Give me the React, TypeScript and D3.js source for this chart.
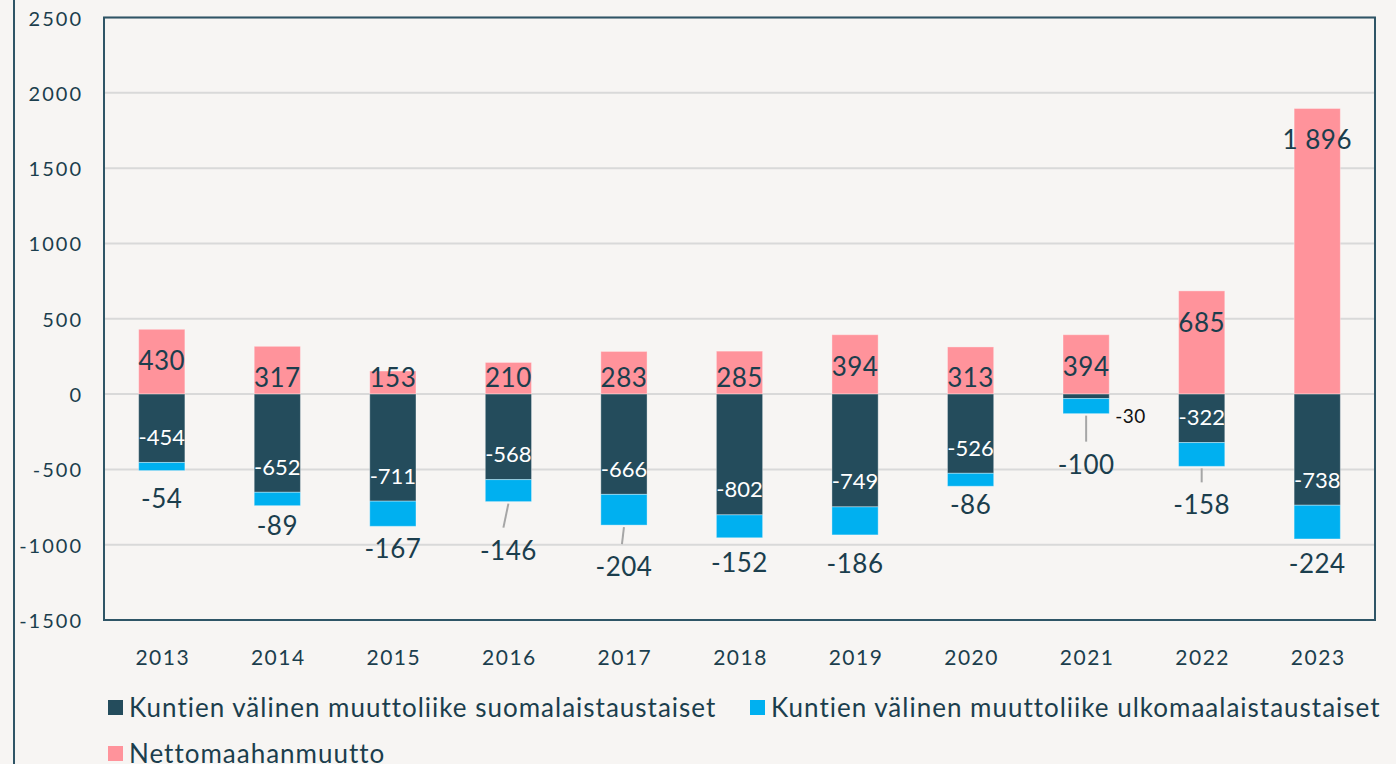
import React, { useEffect, useRef } from 'react';
import * as d3 from 'd3';

const years = ['2013', '2014', '2015', '2016', '2017', '2018', '2019', '2020', '2021', '2022', '2023'];
const suomalais = [-454, -652, -711, -568, -666, -802, -749, -526, -30, -322, -738];
const ulkomaalais = [-54, -89, -167, -146, -204, -152, -186, -86, -100, -158, -224];
const netto = [430, 317, 153, 210, 283, 285, 394, 313, 394, 685, 1896];
const yTicks = [-1500, -1000, -500, 0, 500, 1000, 1500, 2000, 2500];
const seriesNames = [
  'Kuntien välinen muuttoliike suomalaistaustaiset',
  'Kuntien välinen muuttoliike ulkomaalaistaustaiset',
  'Nettomaahanmuutto',
];
// gap (px) between bar bottom and the hand-placed label of the blue series
const blueLabelGap = [27, 19, 22, 48, 41, 24, 28, 18, 50, 38, 24];

const W = 1396;
const H = 764;
const COL_DARK = '#244c5c';
const COL_BLUE = '#00b0f0';
const COL_PINK = '#ff939b';
const TEXT = '#1b3e4d';
const FONT = 'Lato, sans-serif';

const fmt = (v: number) => {
  const s = Math.abs(v).toString().replace(/\B(?=(\d{3})+(?!\d))/g, ' ');
  return (v < 0 ? '-' : '') + s;
};

export default function App() {
  const ref = useRef<SVGSVGElement>(null);

  useEffect(() => {
    const svg = d3.select(ref.current);
    svg.selectAll('*').remove();

    const margin = { top: 17.5, right: 21, bottom: 144, left: 104 };
    const x = d3
      .scaleBand()
      .domain(years)
      .range([margin.left, W - margin.right])
      .paddingInner(0.6)
      .paddingOuter(0.3);
    const y = d3
      .scaleLinear()
      .domain([-1500, 2500])
      .range([H - margin.bottom, margin.top]);

    svg.append('rect').attr('width', W).attr('height', H).attr('fill', '#f7f5f3');
    svg
      .append('line')
      .attr('x1', 14)
      .attr('x2', 14)
      .attr('y1', 0)
      .attr('y2', H)
      .attr('stroke', '#2f5566')
      .attr('stroke-width', 2);

    // gridlines
    svg
      .append('g')
      .selectAll('line')
      .data(yTicks)
      .join('line')
      .attr('x1', margin.left)
      .attr('x2', W - margin.right)
      .attr('y1', d => y(d))
      .attr('y2', d => y(d))
      .attr('stroke', '#d9d9d9')
      .attr('stroke-width', 2);

    const zero = y(0);
    const bw = x.bandwidth();

    const bars = svg.append('g');
    years.forEach((yr, i) => {
      const x0 = x(yr)!;
      const dTop = y(0);
      const dBot = y(suomalais[i]);
      const bBot = y(suomalais[i] + ulkomaalais[i]);
      const pTop = y(netto[i]);
      bars.append('rect').attr('x', x0).attr('width', bw).attr('y', pTop).attr('height', zero - pTop)
        .attr('fill', COL_PINK).attr('stroke', '#ffffff').attr('stroke-opacity', 0.35);
      bars.append('rect').attr('x', x0).attr('width', bw).attr('y', dTop).attr('height', dBot - dTop)
        .attr('fill', COL_DARK).attr('stroke', '#ffffff').attr('stroke-opacity', 0.35);
      bars.append('rect').attr('x', x0).attr('width', bw).attr('y', dBot).attr('height', bBot - dBot)
        .attr('fill', COL_BLUE).attr('stroke', '#ffffff').attr('stroke-opacity', 0.35);
    });

    // plot frame
    svg
      .append('rect')
      .attr('x', margin.left)
      .attr('y', margin.top)
      .attr('width', W - margin.right - margin.left)
      .attr('height', y(-1500) - margin.top)
      .attr('fill', 'none')
      .attr('stroke', '#2f5566')
      .attr('stroke-width', 2);

    // labels
    const lab = svg.append('g').style('font-family', FONT);
    years.forEach((yr, i) => {
      const cx = x(yr)! + bw / 2;
      const pTop = y(netto[i]);
      lab.append('text').attr('x', cx).attr('y', Math.min(pTop + 31, zero - 17))
        .attr('text-anchor', 'middle').attr('dominant-baseline', 'central')
        .attr('fill', TEXT).style('font-size', '26px').style('letter-spacing', '0.5px').text(fmt(netto[i]));

      const dBot = y(suomalais[i]);
      if (dBot - zero < 20) {
        lab.append('text').attr('x', x(yr)! + bw + 6).attr('y', zero + 21)
          .attr('dominant-baseline', 'central').attr('fill', '#111')
          .style('font-size', '19px').style('letter-spacing', '0.5px').text(fmt(suomalais[i]));
      } else {
        lab.append('text').attr('x', cx).attr('y', dBot - 26)
          .attr('text-anchor', 'middle').attr('dominant-baseline', 'central')
          .attr('fill', '#ffffff').style('font-size', '22px').text(fmt(suomalais[i]));
      }

      const bBot = y(suomalais[i] + ulkomaalais[i]);
      const ly = bBot + blueLabelGap[i];
      if (blueLabelGap[i] > 35) {
        lab.append('line').attr('x1', cx).attr('x2', cx - (i === 3 ? 5 : i === 4 ? 2 : 0))
          .attr('y1', bBot + 2).attr('y2', ly - 22)
          .attr('stroke', '#a6a6a6').attr('stroke-width', 2);
      }
      lab.append('text').attr('x', cx).attr('y', ly)
        .attr('text-anchor', 'middle').attr('dominant-baseline', 'central')
        .attr('fill', TEXT).style('font-size', '26px').style('letter-spacing', '0.5px').text(fmt(ulkomaalais[i]));
    });

    // y axis labels
    svg
      .append('g')
      .selectAll('text')
      .data(yTicks)
      .join('text')
      .attr('x', 83)
      .attr('y', d => y(d))
      .attr('text-anchor', 'end')
      .attr('dominant-baseline', 'central')
      .attr('fill', TEXT)
      .style('font-family', FONT)
      .style('font-size', '20px')
      .style('letter-spacing', '2px')
      .text(d => d);

    // x axis labels
    svg
      .append('g')
      .selectAll('text')
      .data(years)
      .join('text')
      .attr('x', d => x(d)! + bw / 2 + 1)
      .attr('y', 656)
      .attr('text-anchor', 'middle')
      .attr('dominant-baseline', 'central')
      .attr('fill', TEXT)
      .style('font-family', FONT)
      .style('font-size', '21px')
      .style('letter-spacing', '1.5px')
      .text(d => d);

    // legend
    const legendItems = [
      { name: seriesNames[0], color: COL_DARK, x: 108, y: 707 },
      { name: seriesNames[1], color: COL_BLUE, x: 750, y: 707 },
      { name: seriesNames[2], color: COL_PINK, x: 108, y: 753 },
    ];
    const lg = svg.append('g').style('font-family', FONT);
    legendItems.forEach(it => {
      lg.append('rect').attr('x', it.x).attr('y', it.y - 7).attr('width', 15).attr('height', 15).attr('fill', it.color);
      lg.append('text').attr('x', it.x + 21).attr('y', it.y).attr('dominant-baseline', 'central')
        .attr('fill', TEXT).style('font-size', '26px').style('letter-spacing', '1px').text(it.name);
    });
  }, []);

  return (
    <svg
      ref={ref}
      width={W}
      height={H}
      style={{ position: 'absolute', left: 0, top: 0, display: 'block' }}
    />
  );
}
